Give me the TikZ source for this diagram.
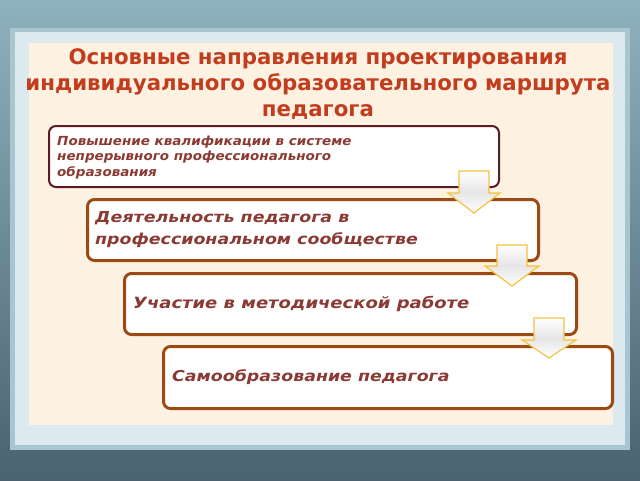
\documentclass[tikz,border=0pt]{standalone}
\usepackage{fontspec}
\setmainfont{DejaVu Sans}
\newfontfamily\boxfontA{DejaVu Sans}[FakeStretch=1.08]
\newfontfamily\boxfontB{DejaVu Sans}[FakeStretch=1.16]
\definecolor{bgtop}{HTML}{8FB2BF}
\definecolor{bgbot}{HTML}{4A636E}
\definecolor{frame}{HTML}{DCE9EE}
\definecolor{framedge}{HTML}{A9C6D0}
\definecolor{cream}{HTML}{FDF1E2}
\definecolor{titlecol}{HTML}{C23C1E}
\definecolor{boxtext}{HTML}{8A3A32}
\definecolor{maroon}{HTML}{5E1A24}
\definecolor{brownb}{HTML}{9A4A12}
\definecolor{arrowy}{HTML}{F3C33E}
\tikzset{
  firstbox/.style={draw=maroon, line width=2pt, fill=white, rounded corners=7pt},
  stepbox/.style={draw=brownb, line width=3pt, fill=white, rounded corners=7pt},
  boxlabel/.style={anchor=west, align=left, text=boxtext, inner sep=0pt},
  blockarrow/.style={draw=arrowy, line width=1.2pt, top color=white, bottom color=white, middle color=black!10, line join=miter},
}
\newcommand{\downarrowblock}[7]{%
  \path[blockarrow] (#1,#3) -- (#2,#3) -- (#2,#4) -- (#6,#4) -- ({(#5+#6)/2},#7) -- (#5,#4) -- (#1,#4) -- cycle;}
\begin{document}
\begin{tikzpicture}[x=1pt,y=-1pt]
\useasboundingbox (0,0) rectangle (640,480);
\shade[top color=bgtop, bottom color=bgbot] (0,0) rectangle (640,480);
\fill[framedge] (10,28) rectangle (630,450);
\fill[frame] (15,32) rectangle (625,445);
\fill[cream] (29,43) rectangle (613,425);

\node[text=titlecol, align=center, inner sep=0pt, font=\bfseries\fontsize{21.3}{26}\selectfont] (title) at (318,84)
  {Основные направления проектирования\\индивидуального образовательного маршрута\\педагога};

\node[firstbox, minimum width=450pt, minimum height=61pt, anchor=north west, inner sep=0pt] (b1) at (48,125) {};
\node[stepbox, minimum width=451pt, minimum height=61pt, anchor=north west, inner sep=0pt] (b2) at (86,198) {};
\node[stepbox, minimum width=452pt, minimum height=61pt, anchor=north west, inner sep=0pt] (b3) at (123,272) {};
\node[stepbox, minimum width=449pt, minimum height=62pt, anchor=north west, inner sep=0pt] (b4) at (162,345) {};

\node[boxlabel, font=\boxfontA\bfseries\itshape\fontsize{12.5}{15.5}\selectfont] (t1) at ([xshift=9pt,yshift=-1pt]b1.west)
  {Повышение квалификации в системе\\непрерывного профессионального\\образования};
\node[boxlabel, font=\boxfontB\bfseries\itshape\fontsize{15}{22}\selectfont] (t2) at ([xshift=9pt,yshift=0pt]b2.west)
  {Деятельность педагога в\\профессиональном сообществе};
\node[boxlabel, font=\boxfontB\bfseries\itshape\fontsize{15.5}{22}\selectfont] (t3) at ([xshift=10pt]b3.west)
  {Участие в методической работе};
\node[boxlabel, font=\boxfontB\bfseries\itshape\fontsize{15}{22}\selectfont] (t4) at ([xshift=10pt]b4.west)
  {Самообразование педагога};

\downarrowblock{459}{489}{171}{193}{448}{500}{213}
\downarrowblock{497}{527}{245}{266}{485}{539}{286}
\downarrowblock{534}{564}{318}{340}{522}{576}{358}
\end{tikzpicture}
\end{document}
